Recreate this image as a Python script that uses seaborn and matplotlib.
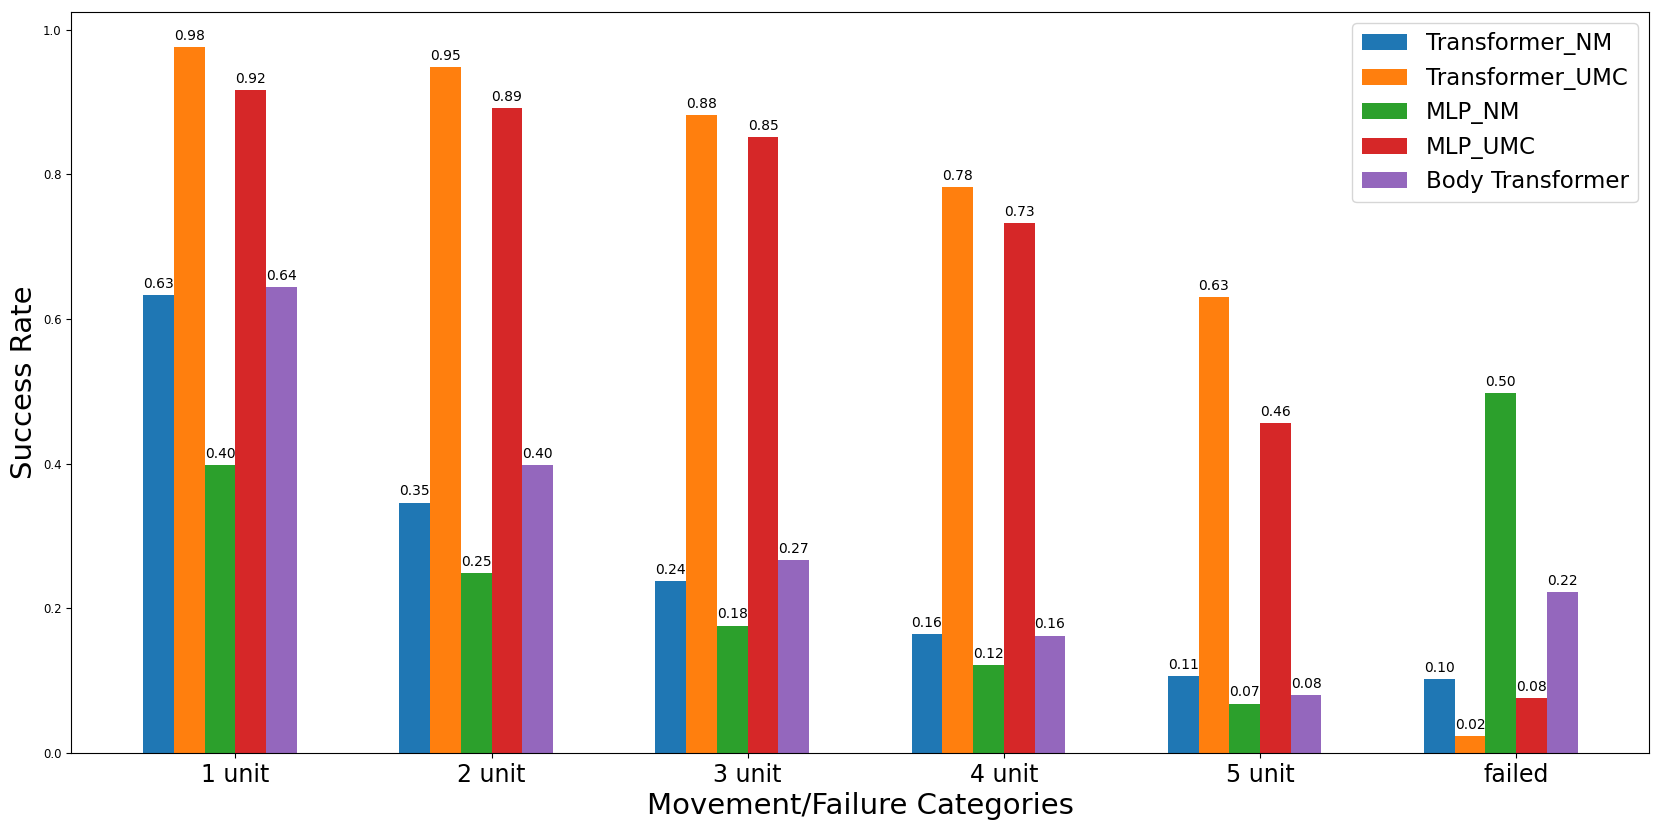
import numpy as np
import pandas as pd
import matplotlib
matplotlib.use("Agg")
import matplotlib.pyplot as plt
import seaborn as sns

categories = ["1 unit", "2 unit", "3 unit", "4 unit", "5 unit", "failed"]
models = ["Transformer_NM", "Transformer_UMC", "MLP_NM", "MLP_UMC", "Body Transformer"]

transformer_nm = [0.633, 0.346, 0.238, 0.164, 0.106, 0.102]
transformer_umc = [0.976, 0.948, 0.882, 0.782, 0.630, 0.023]
mlp_nm = [0.398, 0.249, 0.176, 0.121, 0.068, 0.497]
mlp_umc = [0.917, 0.892, 0.851, 0.732, 0.456, 0.076]
body_transformer = [0.644, 0.398, 0.266, 0.162, 0.080, 0.222]

colors = ["#1f77b4", "#ff7f0e", "#2ca02c", "#d62728", "#9467bd"]

series = [transformer_nm, transformer_umc, mlp_nm, mlp_umc, body_transformer]
rows = []
for m, vals in zip(models, series):
    for c, v in zip(categories, vals):
        rows.append({"Category": c, "Model": m, "Rate": v})
df = pd.DataFrame(rows)

# plain matplotlib look (black text and spines)
plt.rcParams["font.family"] = ["DejaVu Sans"]

fig, ax = plt.subplots(figsize=(16.61, 8.30), dpi=100)
fig.subplots_adjust(left=0.043, right=0.993, top=0.986, bottom=0.093)

sns.barplot(data=df, x="Category", y="Rate", hue="Model", order=categories,
            hue_order=models, palette=colors, width=0.6, saturation=1,
            linewidth=0, errorbar=None, ax=ax)

for cont in ax.containers:
    ax.bar_label(cont, fmt="%.2f", padding=3, fontsize=10, color="black")

# ticks sit at the left edge of the 4th bar, like a plain matplotlib grouped bar
ax.set_xticks(np.arange(len(categories)) + 0.06)
ax.set_xticklabels(categories, fontsize=17)
ax.set_xlim(-0.58, len(categories) - 1 + 0.58)
ax.set_ylim(0, 1.025)
ax.tick_params(axis="y", labelsize=8.5)
ax.set_xlabel("Movement/Failure Categories", fontsize=21)
ax.set_ylabel("Success Rate", fontsize=21)
ax.legend(loc="upper right", fontsize=16.5, title=None)

fig.savefig("out.png", dpi=100)
